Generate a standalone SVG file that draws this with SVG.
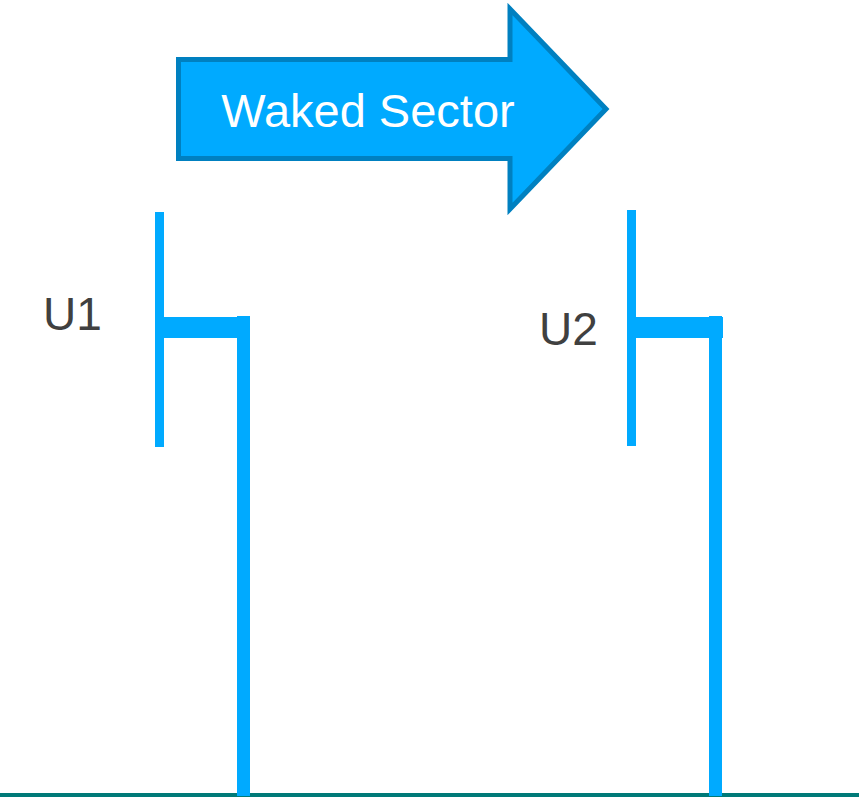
<svg xmlns="http://www.w3.org/2000/svg" width="859" height="797" viewBox="0 0 859 797">
<style>
.bar{fill:#00AAFF}
.lbl{font-family:"Liberation Sans",Arial,sans-serif;font-size:46px;fill:#404040}
</style>
<rect width="859" height="797" fill="#FFFFFF"/>
<g id="sector-arrow">
<polygon points="178.5,59.5 510,59.5 510,9 606,109 510,209 510,158.5 178.5,158.5" fill="#00AAFF" stroke="#0080C0" stroke-width="5" stroke-linejoin="miter"/>
<text x="368" y="127" text-anchor="middle" font-family="Liberation Sans, Arial, sans-serif" font-size="47" fill="#FFFFFF">Waked Sector</text>
</g>
<g id="ground">
<rect x="0" y="793" width="859" height="4" fill="#007A78"/>
</g>
<g id="U1">
<rect class="bar" x="155" y="212" width="9" height="235"/>
<rect class="bar" x="164" y="317" width="86" height="21"/>
<rect class="bar" x="237" y="316" width="13" height="480"/>
<text class="lbl" x="43" y="330">U1</text>
</g>
<g id="U2">
<rect class="bar" x="627" y="210" width="9" height="236"/>
<rect class="bar" x="636" y="317" width="87" height="21"/>
<rect class="bar" x="709" y="316" width="13" height="480"/>
<text class="lbl" x="539" y="345">U2</text>
</g>
</svg>
